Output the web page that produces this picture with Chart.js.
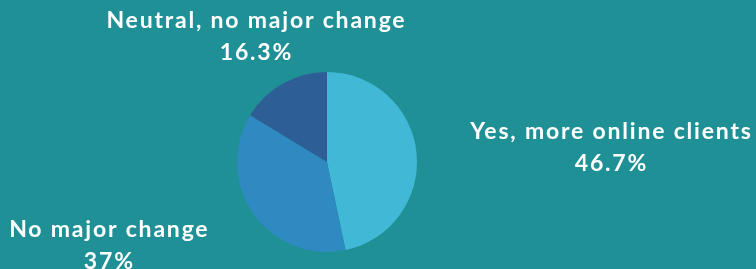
<!DOCTYPE html>
<html>
<head>
<meta charset="utf-8">
<script src="https://cdn.jsdelivr.net/npm/chart.js@4"></script>
<style>
    html, body { margin: 0; padding: 0; background: #1f9196; }
    #pieChart { display: block; }
</style>
</head>
<body>
<canvas id="pieChart" width="756" height="269"></canvas>
<script>
const labels = ['Yes, more online clients', 'No major change', 'Neutral, no major change'];
const values = [46.7, 37, 16.3];
const valueText = ['46.7%', '37%', '16.3%'];
const sliceColors = ['#40b8d6', '#2e8ac0', '#2e5e96'];

// Draws each label outside its slice, anchored along the slice's middle angle
const outsideLabels = {
    id: 'outsideLabels',
    afterDatasetsDraw(chart) {
        const ctx = chart.ctx;
        const arcs = chart.getDatasetMeta(0).data;
        ctx.save();
        ctx.fillStyle = '#ffffff';
        ctx.font = 'bold 23px Lato';
        if ('letterSpacing' in ctx) ctx.letterSpacing = '1.8px';
        ctx.textBaseline = 'middle';
        arcs.forEach((arc, i) => {
            const mid = (arc.startAngle + arc.endAngle) / 2;
            const r = arc.outerRadius * 1.6;
            const cos = Math.cos(mid);
            const x = arc.x + cos * r;
            const y = arc.y + Math.sin(mid) * r;
            ctx.textAlign = cos > 0.6 ? 'left' : (cos < -0.6 ? 'right' : 'center');
            ctx.fillText(labels[i], x, y - 16);
            // value line is centred under the name
            const w = ctx.measureText(labels[i]).width;
            const cx = ctx.textAlign === 'left' ? x + w / 2 : (ctx.textAlign === 'right' ? x - w / 2 : x);
            ctx.textAlign = 'center';
            ctx.fillText(valueText[i], cx, y + 16);
        });
        ctx.restore();
    }
};

new Chart(document.getElementById('pieChart'), {
    type: 'pie',
    data: {
        labels: labels,
        datasets: [{ data: values, backgroundColor: sliceColors, borderWidth: 0 }]
    },
    options: {
        responsive: false,
        animation: false,
        layout: { padding: { left: 0, right: 102, top: 72, bottom: 17 } },
        plugins: { legend: { display: false }, tooltip: { enabled: false } }
    },
    plugins: [outsideLabels]
});
</script>
</body>
</html>
